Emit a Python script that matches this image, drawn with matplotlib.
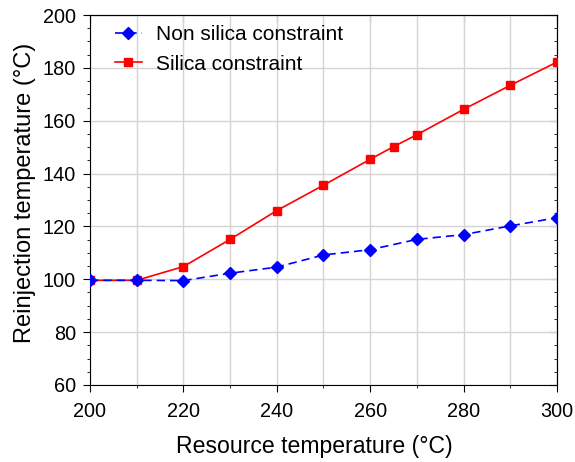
import matplotlib
matplotlib.use("Agg")
import matplotlib.pyplot as plt
from matplotlib.ticker import MultipleLocator

plt.rcParams['font.family'] = ['Liberation Sans', 'DejaVu Sans']

x_blue = [200, 210, 220, 230, 240, 250, 260, 270, 280, 290, 300]
non_silica = [99.6, 99.6, 99.5, 102.3, 104.6, 109.2, 111.2, 115.1, 116.9, 120.2, 123.3]
x_red = [200, 210, 220, 230, 240, 250, 260, 265, 270, 280, 290, 300]
silica = [99.6, 99.6, 104.8, 115.1, 126.0, 135.6, 145.4, 150.2, 154.7, 164.3, 173.4, 182.2]

fig = plt.figure(figsize=(5.75, 4.62), dpi=100)
ax = fig.add_axes([0.1565, 0.1667, 0.8122, 0.8008])

ax.plot(x_blue, non_silica, color='blue', linestyle='--', dashes=(5, 3), lw=1.2,
        marker='D', markersize=6.3, label='Non silica constraint', zorder=4)
ax.plot(x_red, silica, color='red', linestyle='-', lw=1.2,
        marker='s', markersize=6.3, label='Silica constraint', zorder=3)

ax.set_xlim(200, 300)
ax.set_ylim(60, 200)
ax.xaxis.set_major_locator(MultipleLocator(20))
ax.xaxis.set_minor_locator(MultipleLocator(10))
ax.yaxis.set_major_locator(MultipleLocator(20))
ax.yaxis.set_minor_locator(MultipleLocator(5))
ax.grid(True, which='major', color='#d4d4d4', lw=1)
ax.grid(True, which='minor', axis='x', color='#d4d4d4', lw=1)
ax.set_axisbelow(True)

ax.tick_params(axis='both', which='major', labelsize=14.3, direction='out', length=5)
ax.tick_params(axis='x', which='major', pad=7)
ax.tick_params(axis='y', which='major', pad=5)
ax.tick_params(axis='both', which='minor', direction='out', length=2.5)

# inward ticks on top and right
top = ax.secondary_xaxis('top')
top.xaxis.set_major_locator(MultipleLocator(20))
top.xaxis.set_minor_locator(MultipleLocator(10))
top.tick_params(which='major', direction='in', length=5, labeltop=False)
top.tick_params(which='minor', direction='in', length=2.5)
right = ax.secondary_yaxis('right')
right.yaxis.set_major_locator(MultipleLocator(20))
right.yaxis.set_minor_locator(MultipleLocator(5))
right.tick_params(which='major', direction='in', length=5, labelright=False)
right.tick_params(which='minor', direction='in', length=2.5)

ax.set_xlabel('Resource temperature (°C)', fontsize=16.6)
ax.xaxis.set_label_coords(0.48, -0.135)
ax.set_ylabel('Reinjection temperature (°C)', fontsize=17)
ax.yaxis.set_label_coords(-0.115, 0.518)

ax.legend(loc='upper left', frameon=False, fontsize=15, handlelength=1.3,
          borderaxespad=0.0, bbox_to_anchor=(0.035, 0.995), handletextpad=0.7,
          labelspacing=0.5, markerscale=0.9)

fig.savefig('out.png', dpi=100)
